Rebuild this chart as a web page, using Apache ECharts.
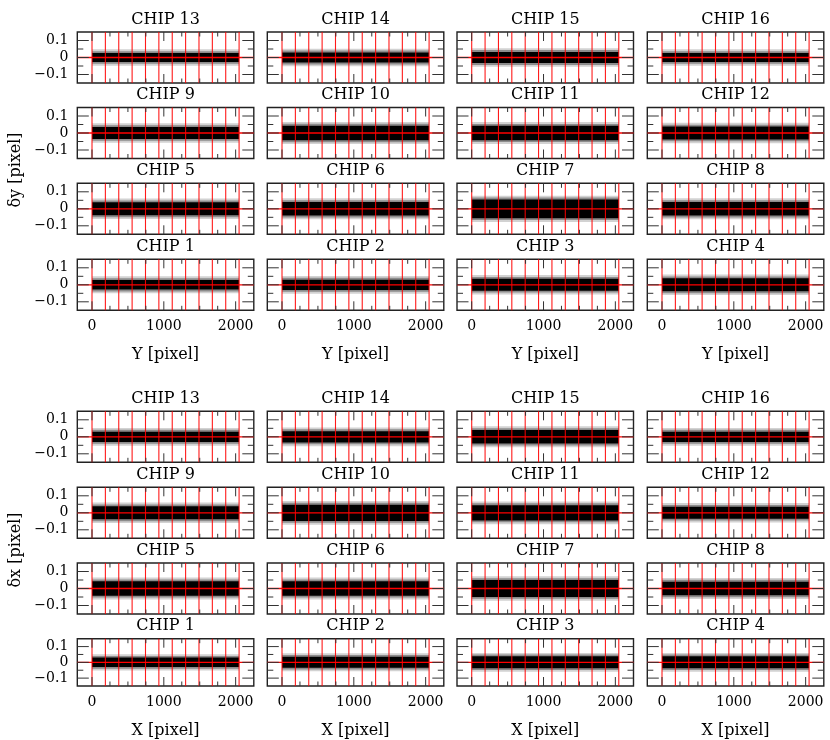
<!DOCTYPE html>
<html><head><meta charset="utf-8">
<script src="https://cdn.jsdelivr.net/npm/echarts@6/dist/echarts.min.js"></script>
<style>html,body{margin:0;padding:0;background:#fff}#c{width:830px;height:740px}</style>
</head><body><div id="c"></div>
<script>
// ---- data ----
const chipRows = [[13, 14, 15, 16], [9, 10, 11, 12], [5, 6, 7, 8], [1, 2, 3, 4]];
// half-width of the dense black core of residuals, chips 1..16
const dyCore = [0.028, 0.030, 0.035, 0.038, 0.038, 0.040, 0.055, 0.040, 0.035, 0.043, 0.042, 0.038, 0.026, 0.030, 0.033, 0.026];
const dxCore = [0.030, 0.035, 0.038, 0.038, 0.042, 0.042, 0.050, 0.040, 0.038, 0.048, 0.045, 0.035, 0.030, 0.033, 0.040, 0.030];
// outer reach of the scattered points around the core, chips 1..16
const dySpread = [0.050, 0.052, 0.057, 0.060, 0.060, 0.062, 0.077, 0.062, 0.057, 0.065, 0.064, 0.060, 0.048, 0.052, 0.055, 0.048];
const dxSpread = [0.052, 0.057, 0.060, 0.060, 0.064, 0.064, 0.072, 0.062, 0.060, 0.070, 0.067, 0.057, 0.052, 0.055, 0.062, 0.052];
const detectorRange = [0, 2048];
const redLinesX = [0, 186.2, 372.4, 558.5, 744.7, 930.9, 1117.1, 1303.3, 1489.5, 1675.6, 1861.8, 2048];
const xTickLabels = [0, 1000, 2000];
const yTickLabels = [-0.1, 0, 0.1];
const xMajorTicks = [0, 1000, 2000];
const xMinorTicks = [250, 500, 750, 1250, 1500, 1750];
const yMajorTicks = [-0.1, 0, 0.1];
const yMinorTicks = [-0.05, 0.05];
const blocks = [
  { core: dyCore, spread: dySpread, xName: 'Y [pixel]', yName: 'δy [pixel]' },
  { core: dxCore, spread: dxSpread, xName: 'X [pixel]', yName: 'δx [pixel]' }
];

// ---- layout ----
const colLeft = [77.3, 267.3, 457, 647.3];
const boxW = 176.5, boxH = 51;
const rowTops = [[32, 107.5, 183.3, 259.3], [411.3, 487.3, 563, 638.7]];
const XMIN = -204.8, XMAX = 2252.8, YMIN = -0.15, YMAX = 0.15;
const FONT = '"DejaVu Serif", "Liberation Serif", serif';

const grids = [], xAxes = [], yAxes = [], series = [], graphics = [];

function bandRender(params, api) {
  const lo = api.value(0), hi = api.value(1);
  const p0 = api.coord([detectorRange[0], hi]);
  const p1 = api.coord([detectorRange[1], lo]);
  const fills = ['#d2d2d2', '#8c8c8c', '#000'];
  return { type: 'rect', shape: { x: p0[0], y: p0[1], width: p1[0] - p0[0], height: p1[1] - p0[1] },
           style: { fill: fills[params.dataIndex] } };
}
function redRender(params, api) {
  const cs = params.coordSys;
  const kind = api.value(1);
  if (kind === 0) {
    const px = api.coord([api.value(0), 0])[0];
    return { type: 'line', shape: { x1: px, y1: cs.y, x2: px, y2: cs.y + cs.height },
             style: { stroke: '#ff0000', lineWidth: 1.1, opacity: 0.9 } };
  }
  const py = api.coord([0, api.value(0)])[1];
  return { type: 'line', shape: { x1: cs.x, y1: py, x2: cs.x + cs.width, y2: py },
           style: { stroke: '#ff0000', lineWidth: 1.3 } };
}
function tickRender(params, api) {
  const cs = params.coordSys;
  const v = api.value(0), kind = api.value(1), len = api.value(2);
  const st = { stroke: '#333', lineWidth: 1 };
  if (kind === 0) {
    const px = api.coord([v, 0])[0];
    return { type: 'group', children: [
      { type: 'line', shape: { x1: px, y1: cs.y + cs.height, x2: px, y2: cs.y + cs.height - len }, style: st },
      { type: 'line', shape: { x1: px, y1: cs.y, x2: px, y2: cs.y + len }, style: st } ] };
  }
  const py = api.coord([0, v])[1];
  return { type: 'group', children: [
    { type: 'line', shape: { x1: cs.x, y1: py, x2: cs.x + len, y2: py }, style: st },
    { type: 'line', shape: { x1: cs.x + cs.width, y1: py, x2: cs.x + cs.width - len, y2: py }, style: st } ] };
}

const tickData = []
  .concat(xMajorTicks.map(v => [v, 0, 9]))
  .concat(xMinorTicks.map(v => [v, 0, 4.5]))
  .concat(yMajorTicks.map(v => [v, 1, 11.5]))
  .concat(yMinorTicks.map(v => [v, 1, 6]));
const redData = redLinesX.map(v => [v, 0]).concat([[0, 1]]);

function fmtY(v) { return v < 0 ? '\u2212' + String(Math.abs(v)) : String(v); }
function fmtX(v) { return String(v); }

blocks.forEach((blk, b) => {
  chipRows.forEach((row, r) => {
    row.forEach((chip, c) => {
      const gi = grids.length;
      const top = rowTops[b][r], left = colLeft[c];
      grids.push({ left: left, top: top, width: boxW, height: boxH, show: true,
                   borderColor: '#222', borderWidth: 1.4, backgroundColor: 'transparent', containLabel: false });
      const bottomRow = r === 3, leftCol = c === 0;
      xAxes.push({ type: 'value', gridIndex: gi, min: XMIN, max: XMAX,
        axisLine: { show: false }, axisTick: { show: false }, splitLine: { show: false },
        axisLabel: { show: bottomRow, customValues: xTickLabels, margin: 9, color: '#000',
                     fontFamily: FONT, fontSize: 14, formatter: fmtX },
        name: bottomRow ? blk.xName : '', nameLocation: 'middle', nameGap: 37,
        nameTextStyle: { fontFamily: FONT, fontSize: 16, color: '#000' } });
      yAxes.push({ type: 'value', gridIndex: gi, min: YMIN, max: YMAX,
        axisLine: { show: false }, axisTick: { show: false }, splitLine: { show: false },
        axisLabel: { show: leftCol, customValues: yTickLabels, margin: 9, color: '#000',
                     fontFamily: FONT, fontSize: 14, formatter: fmtY } });
      const core = blk.core[chip - 1], spread = blk.spread[chip - 1];
      const mid = (core + spread) / 2;
      series.push({ type: 'custom', xAxisIndex: gi, yAxisIndex: gi, renderItem: bandRender, silent: true,
        data: [[-spread, spread], [-mid, mid], [-core, core]], z: 2 });
      series.push({ type: 'custom', xAxisIndex: gi, yAxisIndex: gi, renderItem: redRender, silent: true,
        data: redData, z: 3 });
      series.push({ type: 'custom', xAxisIndex: gi, yAxisIndex: gi, renderItem: tickRender, silent: true,
        data: tickData, z: 4 });
      graphics.push({ type: 'text', x: left + boxW / 2, y: top - 12.5,
        style: { text: 'CHIP ' + chip, fontFamily: FONT, fontSize: 16, fill: '#000',
                 align: 'center', verticalAlign: 'middle' } });
    });
  });
  const mids = [170, 550];
  graphics.push({ type: 'text', x: 16, y: mids[b], rotation: Math.PI / 2,
    style: { text: blk.yName, fontFamily: FONT, fontSize: 16, fill: '#000', align: 'center', verticalAlign: 'middle' } });
});

const chart = echarts.init(document.getElementById('c'), null, { renderer: 'canvas' });
chart.setOption({
  animation: false,
  backgroundColor: '#fff',
  grid: grids, xAxis: xAxes, yAxis: yAxes, series: series, graphic: graphics
});
</script></body></html>
